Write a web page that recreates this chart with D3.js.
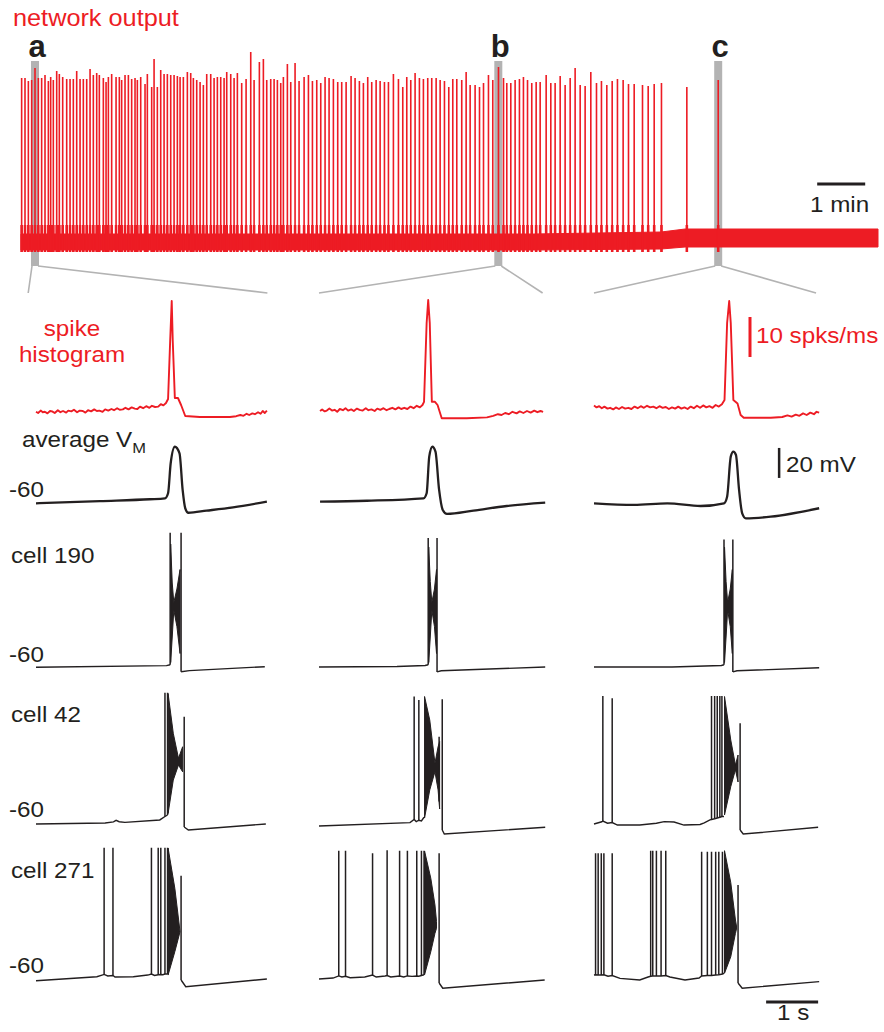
<!DOCTYPE html>
<html>
<head>
<meta charset="utf-8">
<script src="https://cdn.jsdelivr.net/npm/d3@7"></script>
<style>
  body { margin: 0; background: #fff; }
  svg text { font-family: "Liberation Sans", Arial, Helvetica, sans-serif; }
</style>
</head>
<body>
<div id="chart"></div>
<script>
// ---- network output (top trace): spike times (s) and peak heights (a.u.)
const netSpikeTimes = [
  0.8, 5.0, 9.2, 13.3, 17.5, 21.7, 25.8, 30.0, 34.2, 37.1, 40.4, 44.6, 47.9, 52.1, 57.1, 61.3, 65.4, 69.6, 73.8, 77.9,
  82.1, 86.3, 90.4, 94.6, 97.9, 102.9, 106.3, 109.2, 113.3, 118.8, 122.9, 125.8, 130.0, 134.2, 138.3, 142.5, 145.4, 149.6, 155.0, 157.9,
  163.3, 166.3, 170.4, 174.6, 178.8, 182.9, 187.1, 191.3, 195.4, 198.8, 202.9, 207.9, 212.1, 215.4, 219.6, 223.8, 227.9, 232.1, 237.1, 241.3,
  245.4, 249.6, 253.8, 257.1, 262.1, 266.3, 270.4, 275.8, 281.3, 287.1, 291.3, 297.9, 302.9, 307.1, 312.1, 316.3, 320.4, 324.6, 327.9, 332.9,
  337.1, 342.5, 347.5,
  353.8, 359.2, 364.2, 369.6, 374.6, 380.0, 385.0, 390.4, 395.8, 400.8, 406.3, 412.5, 417.5, 422.9, 427.9, 433.3, 438.3, 443.8, 448.8, 454.2,
  459.2, 465.4, 471.7, 477.1, 482.1, 487.1, 492.5, 497.9, 502.9, 508.3, 513.3, 518.8, 523.8, 529.2, 534.6, 539.6, 544.6, 550.8, 556.3, 561.3,
  567.5, 573.0, 578.0, 584.2, 589.6, 596.7, 603.0, 607.1, 612.1, 617.5, 622.9, 627.9, 633.0, 638.3, 643.8, 648.8, 656.3, 662.1, 667.5, 673.8,
  680.0, 686.3, 692.5, 698.8, 705.0,
  712.1, 719.2, 725.4, 732.1, 738.8, 745.4, 752.5, 759.2, 766.3, 776.7, 783.8, 791.3, 800.4, 832.1, 871.3
];
const netSpikeHeights = [
  174, 174, 171, 172, 184, 174, 174, 177, 171, 175, 172, 181, 178, 175, 173, 173, 173, 181, 173, 173,
  173, 183, 177, 179, 177, 174, 170, 175, 178, 175, 175, 172, 177, 177, 173, 174, 172, 175, 168, 178,
  165, 193, 165, 182, 178, 178, 177, 177, 176, 175, 175, 180, 179, 174, 172, 170, 167, 178, 178, 174,
  175, 175, 174, 180, 178, 174, 179, 169, 173, 200, 172, 190, 193, 172, 173, 173, 172, 169, 175, 188,
  170, 189, 171,
  175, 177, 171, 172, 169, 175, 174, 173, 170, 170, 170, 176, 174, 171, 169, 175, 170, 172, 171, 170,
  170, 178, 173, 165, 175, 172, 179, 174, 173, 174, 174, 174, 172, 171, 165, 173, 173, 172, 180, 167,
  167, 165, 169, 177, 172, 185, 174, 169, 169, 172, 173, 175, 172, 169, 170, 170, 177, 169, 169, 176,
  167, 174, 184, 167, 166,
  180, 169, 171, 167, 171, 173, 172, 168, 168, 167, 166, 168, 169, 165, 172
];
// noise band of the network trace (a.u.)
const netBandTimes = [0, 640, 800, 830, 1071];
const netBandLow = [2, 2, 3, 5, 5];
const netBandHigh = [18, 18, 20, 23, 23];
// expanded windows
const windowLabels = ['a', 'b', 'c'];
const windowTimes = [17.5, 596.5, 871.3];

// ---- spike histograms: [time (s), spks/ms]
const histA = [[0,3.3],[0.04,3.0],[0.09,3.6],[0.13,3.2],[0.17,3.3],[0.22,2.9],[0.27,3.5],[0.31,3.4],[0.36,3.0],[0.42,3.7],[0.47,3.2],[0.52,3.5],[0.58,3.1],[0.62,3.6],[0.68,3.4],[0.73,3.8],[0.79,3.2],[0.84,3.6],[0.9,3.5],[0.95,3.1],[1.0,3.7],[1.06,3.4],[1.12,3.9],[1.17,3.5],[1.22,3.6],[1.28,3.3],[1.33,3.9],[1.39,3.6],[1.45,4.0],[1.5,3.7],[1.56,4.2],[1.61,3.8],[1.67,3.9],[1.72,4.3],[1.78,3.9],[1.84,4.4],[1.9,4.1],[1.95,4.0],[2.0,4.6],[2.06,4.2],[2.12,4.7],[2.18,4.3],[2.23,4.8],[2.29,4.5],[2.35,4.6],[2.4,5.2],[2.45,4.9],[2.5,5.5],[2.54,6.5],[2.58,21],[2.61,31],[2.63,21],[2.67,6.75],[2.73,6.75],[2.79,5],[2.87,2.25],[3.15,2],[3.73,2],[3.85,2.2],[3.93,2.5],[3.99,2.3],[4.05,2.8],[4.1,2.5],[4.16,2.9],[4.21,2.7],[4.27,3.2],[4.32,2.8],[4.36,3.5],[4.4,3.0],[4.44,3.6]];
const histB = [[0.02,3.5],[0.06,3.9],[0.11,3.4],[0.15,3.6],[0.2,4.1],[0.25,3.6],[0.3,3.8],[0.35,3.3],[0.4,4.0],[0.46,3.7],[0.51,4.2],[0.56,3.6],[0.62,3.9],[0.67,3.5],[0.73,4.1],[0.78,3.8],[0.84,3.6],[0.9,4.2],[0.95,3.7],[1.01,3.9],[1.07,3.5],[1.12,4.1],[1.18,3.8],[1.24,4.2],[1.3,3.7],[1.35,4.0],[1.41,4.3],[1.47,3.9],[1.53,4.4],[1.58,4.0],[1.64,4.3],[1.7,4.0],[1.76,4.6],[1.82,4.2],[1.88,4.8],[1.94,4.4],[1.99,5.0],[2.02,5.8],[2.07,25.5],[2.10,31.25],[2.13,25.5],[2.17,5.8],[2.23,5.8],[2.28,5],[2.36,1.7],[2.84,1.7],[3.23,1.9],[3.35,2.3],[3.44,2.7],[3.51,2.5],[3.58,3.0],[3.65,2.7],[3.72,3.3],[3.8,2.9],[3.86,3.4],[3.93,3.0],[4.0,3.5],[4.07,3.1],[4.14,3.6],[4.2,3.2],[4.26,3.5],[4.31,3.3]];
const histC = [[0,4.9],[0.05,4.4],[0.1,4.7],[0.15,4.2],[0.2,4.6],[0.26,4.1],[0.31,4.3],[0.37,3.9],[0.42,4.4],[0.48,4.0],[0.54,4.5],[0.6,4.1],[0.66,4.3],[0.72,4.0],[0.78,4.6],[0.84,4.2],[0.9,4.7],[0.96,4.3],[1.02,4.8],[1.08,4.4],[1.14,4.6],[1.2,4.2],[1.26,4.7],[1.32,4.3],[1.38,4.5],[1.44,4.0],[1.5,4.4],[1.56,4.1],[1.62,4.6],[1.68,4.1],[1.74,4.4],[1.8,4.0],[1.86,4.6],[1.92,4.2],[1.98,4.8],[2.04,4.3],[2.1,4.9],[2.16,4.4],[2.22,4.7],[2.28,4.3],[2.34,5.0],[2.4,4.6],[2.46,5.2],[2.51,6.25],[2.56,25.5],[2.60,31],[2.63,25.5],[2.68,6.25],[2.76,5.4],[2.82,2.5],[2.88,1.8],[3.40,1.8],[3.62,2.0],[3.72,2.4],[3.8,2.1],[3.88,2.6],[3.95,2.3],[4.02,2.9],[4.09,2.5],[4.16,3.1],[4.23,2.7],[4.28,3.3],[4.33,3.1]];

// ---- average membrane potential: [time (s), mV]
const avgA = [[0,-60.2],[1.23,-58.7],[2.19,-57.5],[2.48,-56.9],[2.54,-53.5],[2.59,-33.5],[2.67,-22.5],[2.76,-26.9],[2.82,-51.3],[2.87,-63.5],[2.93,-66.5],[3.28,-65.1],[3.79,-62.9],[4.44,-59.1]];
const avgB = [[0.02,-59.1],[0.92,-58.5],[2.01,-56.9],[2.07,-53.5],[2.12,-29.1],[2.18,-22.5],[2.24,-25.8],[2.31,-51.3],[2.38,-64.7],[2.46,-67.3],[2.97,-65.1],[3.61,-62],[4.35,-59.8]];
const avgC = [[0,-60.2],[0.77,-61.3],[1.41,-60.2],[2.05,-62],[2.50,-60.2],[2.56,-55.8],[2.63,-29.1],[2.68,-25.8],[2.73,-28],[2.79,-51.3],[2.85,-66.9],[2.92,-70.2],[3.40,-69.1],[4.33,-63.5]];

// ---- single cells. base: [t, mV] (null = hidden under burst)
// spikes: [t, from mV, peak mV]; burst envelope: [t, upper mV, lower mV]
const c190aBase = [[0,-60.2],[2.51,-59.1],[2.58,-58.5],null,[2.79,-63.2],[2.95,-62.4],[4.4,-59.8]];
const c190aSpikes = [[2.58,-58.5,29.5],[2.79,-63.2,29.5]];
const c190aBurst = [[2.59,22,-57],[2.62,-4,-40],[2.65,-17,-22],[2.71,-8,-33],[2.77,5,-51]];
const c190bBase = [[0,-60],[1.5,-59.7],[2.04,-59],[2.10,-58.5],null,[2.27,-63.3],[2.35,-62.5],[4.35,-60]];
const c190bSpikes = [[2.10,-58.5,26],[2.27,-63.3,26]];
const c190bBurst = [[2.11,20,-57],[2.14,-3,-40],[2.17,-17,-22],[2.22,-8,-33],[2.26,5,-51]];
const c190cBase = [[0,-60],[1.5,-60],[2.45,-59],[2.50,-58.5],null,[2.67,-63.3],[2.75,-62.5],[4.33,-60.5]];
const c190cSpikes = [[2.50,-58.5,25],[2.67,-63.3,25]];
const c190cBurst = [[2.51,20,-57],[2.54,-3,-40],[2.57,-17,-22],[2.62,-8,-33],[2.66,5,-51]];

const c42aBase = [[0,-60],[1.33,-59.3],[1.49,-58.6],[1.54,-57.6],[1.6,-58.5],[1.71,-58.9],[2.38,-57.3],[2.48,-55],[2.53,-54],null,[2.85,-62],[2.93,-64],[4.42,-60]];
const c42aSpikes = [[2.48,-55,27.5],[2.53,-54,27.5],[2.85,-62,11.5]];
const c42aBurst = [[2.54,27,-53],[2.64,0.5,-30.7],[2.74,-16.2,-20.7],[2.82,-8.5,-25.2]];
const c42bBase = [[0,-61.3],[1.75,-59.1],[1.83,-57],[1.87,-58.4],[1.92,-57.5],[1.97,-58],[2.02,-55.5],null,[2.37,-64],[2.41,-66.7],[4.35,-62.2]];
const c42bSpikes = [[1.83,-57,25],[1.92,-57.5,22.7],[2.31,-45,-1.8],[2.37,-64,23.1]];
const c42bBurst = [[2.03,25,-56],[2.13,9.3,-37.3],[2.23,-19.5,-25.1],[2.29,-8.5,-37.3],[2.32,-5,-50]];
const c42cBase = [[0,-60],[0.15,-58.5],[0.17,-58],[0.26,-59.5],[0.35,-59],[0.45,-60.7],[0.88,-60.7],[1.2,-59.5],[1.35,-58.4],[1.54,-58.7],[1.73,-60.7],[2.04,-60.3],[2.12,-59.3],[2.23,-57.3],[2.26,-57],[2.32,-56.5],[2.37,-56],[2.42,-55.5],[2.46,-55],[2.5,-55],null,[2.81,-64],[2.87,-66.7],[4.31,-62.2]];
const c42cSpikes = [[0.17,-58,25.3],[0.35,-59,23.8],[2.26,-57,25.3],[2.32,-56.5,25.3],[2.37,-56,25.3],[2.42,-55.5,25.3],[2.46,-55,25.3],[2.81,-64,7.1]];
const c42cBurst = [[2.51,25,-54],[2.63,-4,-35.1],[2.72,-20.7,-23.8],[2.77,-14,-32]];

const c271aBase = [[0,-60.5],[1.17,-57.8],[1.27,-56.7],[1.31,-56.3],[1.38,-57.3],[1.48,-57],[1.52,-58],[1.87,-57.8],[2.15,-56.7],[2.22,-56],[2.28,-57],[2.35,-56.5],[2.40,-56.3],[2.44,-56.5],[2.48,-56],[2.53,-56],null,[2.79,-60],[2.88,-64.5],[4.44,-59.3]];
const c271aSpikes = [[1.31,-56.3,28.2],[1.48,-57,28.2],[2.22,-56,28.2],[2.35,-56.5,28.2],[2.40,-56.3,28.2],[2.48,-56,28.2],[2.53,-56,28.2],[2.79,-60,9.5]];
const c271aBurst = [[2.54,28,-56.7],[2.67,1.1,-41.1],[2.77,-27.8,-27.8]];
const c271bBase = [[0,-59.3],[0.27,-58.7],[0.38,-57.3],[0.44,-58],[0.51,-57.5],[0.6,-58.5],[0.88,-58],[1.03,-56.7],[1.10,-58],[1.27,-57.3],[1.31,-57],[1.38,-58],[1.55,-57.3],[1.63,-58],[1.70,-57.3],[1.79,-57.6],[1.88,-57.3],[1.92,-57.5],[1.97,-57],[2.02,-56.5],null,[2.31,-62],[2.38,-65.5],[4.34,-60]];
const c271bSpikes = [[0.38,-57.3,26.2],[0.51,-57.5,26.2],[1.03,-56.7,24.5],[1.31,-57,26.5],[1.55,-57.3,26.2],[1.70,-57.3,26.2],[1.88,-57.3,26.2],[1.97,-57,26.2],[2.02,-56.5,26.2],[2.31,-62,24.5]];
const c271bBurst = [[2.03,26,-56.5],[2.15,7.8,-41.1],[2.23,-10,-28.9],[2.26,-21,-25.5]];
const c271cBase = [[0,-56.7],[0.03,-56.5],[0.08,-56.7],[0.14,-56.7],[0.19,-56.5],[0.27,-57.5],[0.35,-57],[0.5,-58.9],[0.88,-60],[1.04,-58],[1.09,-57.5],[1.13,-57.3],[1.2,-57.3],[1.29,-57.3],[1.38,-57],[1.46,-58],[1.75,-60],[2.02,-58.7],[2.07,-57.3],[2.18,-57],[2.26,-57],[2.34,-56.7],[2.40,-56.5],[2.47,-56],[2.5,-55.5],null,[2.77,-62],[2.85,-65.5],[4.33,-61.1]];
const c271cSpikes = [[0.03,-56.5,24.5],[0.08,-56.7,24.5],[0.14,-56.7,24.5],[0.19,-56.5,24.5],[0.35,-57,24.5],[1.09,-57.5,26.2],[1.13,-57.3,26.2],[1.2,-57.3,26.2],[1.29,-57.3,26.2],[1.38,-57,26.2],[2.07,-57.3,25.5],[2.18,-57,25.5],[2.26,-57,25.5],[2.34,-56.7,25.5],[2.40,-56.5,25.5],[2.47,-56,25.5],[2.77,-62,3.3]];
const c271cBurst = [[2.51,26.2,-55.5],[2.63,5,-44.5],[2.72,-20,-28.9],[2.74,-24,-26]];

// ---- layout
const W = 884, H = 1032;
const RED = '#ed1c24', INK = '#231f20', GREY = '#b3b3b3';
const SX = 1.1;   // horizontal stretch of the lettering
const colX0 = [36, 319, 594];
const connectorSpan = [[-0.15, 4.45], [0, 4.3], [0, 4.27]];

const svg = d3.select('#chart').append('svg')
    .attr('width', W)
    .attr('height', H);

function label(x, y, s, size, color, anchor) {
    return svg.append('text')
        .attr('transform', `translate(${x},${y}) scale(${SX},1)`)
        .attr('font-size', size)
        .attr('fill', color)
        .attr('text-anchor', anchor || 'start')
        .text(s);
}

// Escalas
const xNet = d3.scaleLinear().domain([0, 1071]).range([21, 878]);
const yNet = d3.scaleLinear().domain([0, 200]).range([252, 52]);
const xCol = colX0.map(x0 => d3.scaleLinear().domain([0, 1]).range([x0, x0 + 52]));
const yHist = d3.scaleLinear().domain([0, 10]).range([425, 385]);
const mvRow = y60 => d3.scaleLinear().domain([-60, -40]).range([y60, y60 - 30]);
const yAvg = mvRow(503), y190 = mvRow(667), y42 = mvRow(824), y271 = mvRow(980);

// ---- top: network output
label(13, 26, 'network output', 23, RED);

windowTimes.forEach((t, i) => {
    svg.append('rect')
        .attr('x', xNet(t) - 4).attr('y', 61)
        .attr('width', 8).attr('height', 205)
        .attr('fill', GREY);
    svg.append('text')
        .attr('x', xNet(t) + 2).attr('y', 57)
        .attr('font-size', 31).attr('font-weight', 'bold')
        .attr('fill', INK).attr('text-anchor', 'middle')
        .text(windowLabels[i]);
    const xs = xCol[i];
    svg.append('path')
        .attr('d', `M${xNet(t) - 3},266L${xs(connectorSpan[i][0])},293M${xNet(t) + 3},266L${xs(connectorSpan[i][1])},293`)
        .attr('fill', 'none').attr('stroke', GREY).attr('stroke-width', 1.6);
});

const band = netBandTimes.map((t, i) => ({t, lo: netBandLow[i], hi: netBandHigh[i]}));
svg.append('path')
    .datum(band)
    .attr('d', d3.area().x(d => xNet(d.t)).y0(d => yNet(d.lo)).y1(d => yNet(d.hi)))
    .attr('fill', RED).attr('stroke', RED).attr('stroke-width', 1);

// small depolarising shoulder round every network event
svg.append('path')
    .attr('d', netSpikeTimes.map(t => `M${xNet(t)},${yNet(0)}V${yNet(27)}`).join(''))
    .attr('stroke', RED).attr('stroke-width', 2.6).attr('fill', 'none');

svg.append('path')
    .attr('d', netSpikeTimes.map((t, i) => `M${xNet(t)},${yNet(0)}V${yNet(netSpikeHeights[i])}`).join(''))
    .attr('stroke', RED).attr('stroke-width', 1.6).attr('fill', 'none');

// 1 min bar
svg.append('line')
    .attr('x1', xNet(995)).attr('x2', xNet(1055))
    .attr('y1', 184).attr('y2', 184)
    .attr('stroke', INK).attr('stroke-width', 3);
label(810, 212, '1 min', 22, INK);

// ---- expanded panels
const hists = [histA, histB, histC];
const avgs = [avgA, avgB, avgC];
const cells = [
    {y: y190, rows: [[c190aBase, c190aSpikes, c190aBurst], [c190bBase, c190bSpikes, c190bBurst], [c190cBase, c190cSpikes, c190cBurst]]},
    {y: y42, rows: [[c42aBase, c42aSpikes, c42aBurst], [c42bBase, c42bSpikes, c42bBurst], [c42cBase, c42cSpikes, c42cBurst]]},
    {y: y271, rows: [[c271aBase, c271aSpikes, c271aBurst], [c271bBase, c271bSpikes, c271bBurst], [c271cBase, c271cSpikes, c271cBurst]]}
];

xCol.forEach((x, i) => {
    svg.append('path')
        .datum(hists[i])
        .attr('d', d3.line().x(d => x(d[0])).y(d => yHist(d[1])))
        .attr('fill', 'none').attr('stroke', RED).attr('stroke-width', 1.9)
        .attr('stroke-linejoin', 'round');

    svg.append('path')
        .datum(avgs[i])
        .attr('d', d3.line().x(d => x(d[0])).y(d => yAvg(d[1])).curve(d3.curveMonotoneX))
        .attr('fill', 'none').attr('stroke', INK).attr('stroke-width', 2.3);

    cells.forEach(cell => {
        const [base, spikes, burst] = cell.rows[i];
        const y = cell.y;
        svg.append('path')
            .datum(burst)
            .attr('d', d3.area().x(d => x(d[0])).y0(d => y(d[2])).y1(d => y(d[1])))
            .attr('fill', INK).attr('stroke', INK).attr('stroke-width', 1);
        svg.append('path')
            .datum(base)
            .attr('d', d3.line().defined(d => d).x(d => x(d[0])).y(d => y(d[1])))
            .attr('fill', 'none').attr('stroke', INK).attr('stroke-width', 1.4);
        svg.append('path')
            .attr('d', spikes.map(s => `M${x(s[0])},${y(s[1])}V${y(s[2])}`).join(''))
            .attr('fill', 'none').attr('stroke', INK).attr('stroke-width', 1.5);
    });
});

// labels
label(72, 336, 'spike', 22, RED, 'middle');
label(72, 362, 'histogram', 22, RED, 'middle');
const avgLab = label(22, 447, 'average V', 22, INK);
avgLab.append('tspan').attr('font-size', 15).attr('dy', 6).text('M');
label(9, 497, '-60', 22, INK);
label(11, 563, 'cell 190', 22, INK);
label(9, 662, '-60', 22, INK);
label(11, 722, 'cell 42', 22, INK);
label(9, 817, '-60', 22, INK);
label(11, 878, 'cell 271', 22, INK);
label(9, 973, '-60', 22, INK);

// scale bars
const xc = xCol[2];
svg.append('line')
    .attr('x1', xc(3.0)).attr('x2', xc(3.0))
    .attr('y1', yHist(17)).attr('y2', yHist(27))
    .attr('stroke', RED).attr('stroke-width', 3);
label(756, 343, '10 spks/ms', 22, RED);
svg.append('line')
    .attr('x1', xc(3.56)).attr('x2', xc(3.56))
    .attr('y1', yAvg(-43.3)).attr('y2', yAvg(-23.3))
    .attr('stroke', INK).attr('stroke-width', 2.5);
label(786, 472, '20 mV', 22, INK);
svg.append('line')
    .attr('x1', xc(3.31)).attr('x2', xc(4.31))
    .attr('y1', y271(-74.7)).attr('y2', y271(-74.7))
    .attr('stroke', INK).attr('stroke-width', 3);
label(777, 1020, '1 s', 22, INK);
</script>
</body>
</html>
